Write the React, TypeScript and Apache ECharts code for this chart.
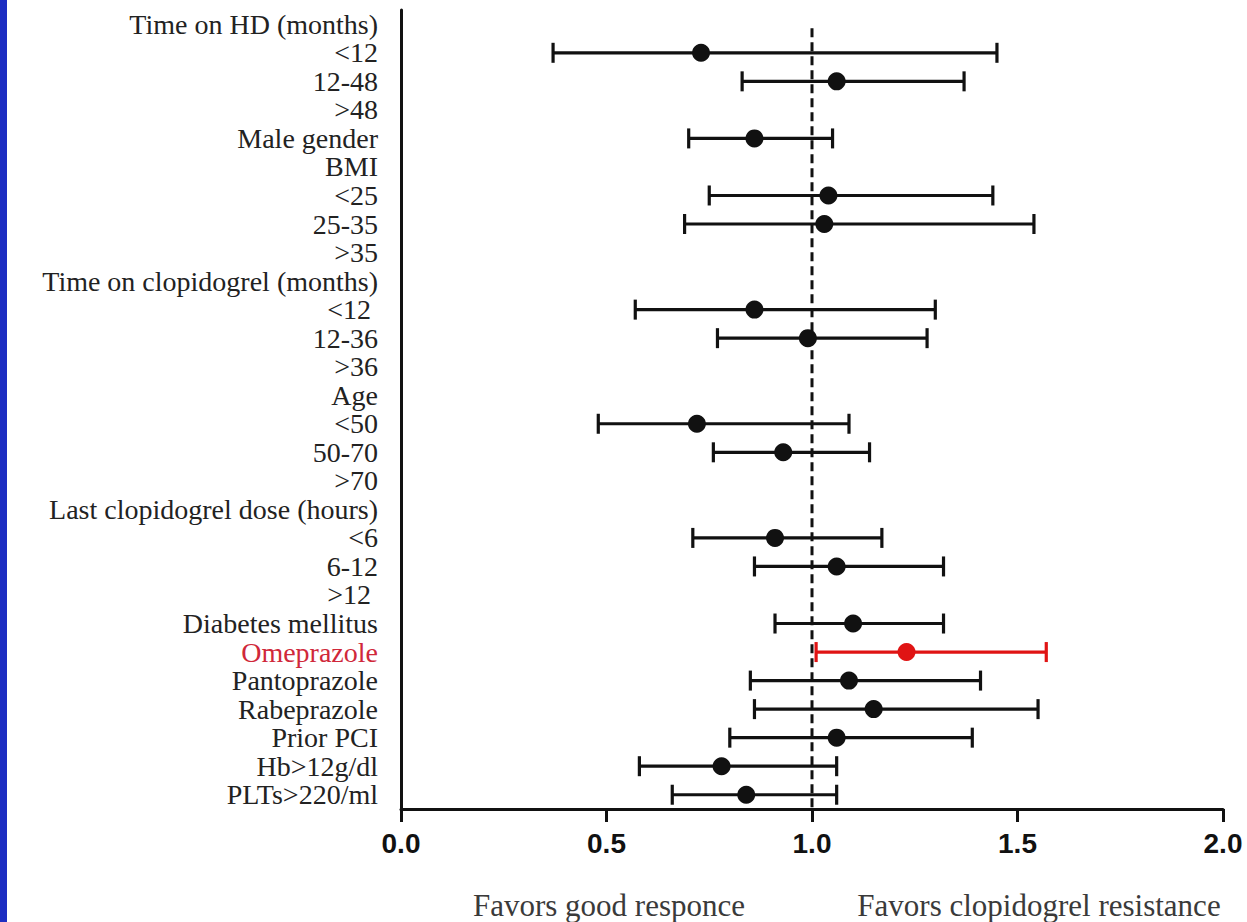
import React, { useEffect, useRef } from "react";
import * as echarts from "echarts";

// Subgroup rows, top to bottom (header rows carry no estimate)
const categories = [
  "Time on HD (months)", "<12", "12-48", ">48", "Male gender", "BMI", "<25", "25-35", ">35",
  "Time on clopidogrel (months)", "<12 ", "12-36", ">36", "Age", "<50", "50-70", ">70",
  "Last clopidogrel dose (hours)", "<6", "6-12", ">12 ", "Diabetes mellitus", "Omeprazole",
  "Pantoprazole", "Rabeprazole", "Prior PCI", "Hb>12g/dl", "PLTs>220/ml",
];

// Odds ratio estimates and 95% CI bounds (null = header / no estimate shown)
const estimate = [
  null, 0.73, 1.06, null, 0.86, null, 1.04, 1.03, null,
  null, 0.86, 0.99, null, null, 0.72, 0.93, null,
  null, 0.91, 1.06, null, 1.10, 1.23,
  1.09, 1.15, 1.06, 0.78, 0.84,
];
const lower = [
  null, 0.37, 0.83, null, 0.70, null, 0.75, 0.69, null,
  null, 0.57, 0.77, null, null, 0.48, 0.76, null,
  null, 0.71, 0.86, null, 0.91, 1.01,
  0.85, 0.86, 0.80, 0.58, 0.66,
];
const upper = [
  null, 1.45, 1.37, null, 1.05, null, 1.44, 1.54, null,
  null, 1.30, 1.28, null, null, 1.09, 1.14, null,
  null, 1.17, 1.32, null, 1.32, 1.57,
  1.41, 1.55, 1.39, 1.06, 1.06,
];

const xTicks = [0, 0.5, 1.0, 1.5, 2.0];
const referenceValue = 1.0;
const highlighted = "Omeprazole";
const leftNote = "Favors good responce";
const rightNote = "Favors clopidogrel resistance";

const INK = "#111111";
const RED = "#e01414";
const SERIF = "'Liberation Serif', 'Times New Roman', serif";

export default function App() {
  const ref = useRef<HTMLDivElement>(null);

  useEffect(() => {
    if (!ref.current) return;
    const chart = echarts.init(ref.current, null, { renderer: "svg" });

    const barData: any[] = [];
    const dotData: any[] = [];
    categories.forEach((c, i) => {
      if (estimate[i] == null) return;
      const isRed = c === highlighted;
      barData.push({ value: [i, lower[i], upper[i]], itemStyle: { color: isRed ? RED : INK } });
      dotData.push({ value: [estimate[i], c], itemStyle: { color: isRed ? RED : INK, opacity: 1 } });
    });

    chart.setOption({
      animation: false,
      backgroundColor: "#ffffff",
      grid: { left: 401, right: 24, top: 10, bottom: 113, containLabel: false },
      xAxis: {
        type: "value",
        min: xTicks[0],
        max: xTicks[xTicks.length - 1],
        interval: 0.5,
        splitLine: { show: false },
        axisLine: { show: true, lineStyle: { color: INK, width: 3 } },
        axisTick: { show: true, length: 13, lineStyle: { color: INK, width: 3 } },
        axisLabel: {
          margin: 20,
          color: "#111",
          fontFamily: "'Liberation Sans', Arial, sans-serif",
          fontWeight: "bold",
          fontSize: 28,
          formatter: (v: number) => v.toFixed(1),
        },
      },
      yAxis: {
        type: "category",
        data: categories,
        inverse: true,
        axisLine: { show: true, lineStyle: { color: INK, width: 3 } },
        axisTick: { show: false },
        splitLine: { show: false },
        axisLabel: {
          interval: 0,
          margin: 23,
          color: "#222",
          fontFamily: SERIF,
          fontSize: 28,
          lineHeight: 28,
          formatter: (v: string) => (v === highlighted ? `{red|${v}}` : v),
          rich: {
            red: { color: "#d0283a", fontFamily: SERIF, fontSize: 28, lineHeight: 28 },
          },
        },
      },
      series: [
        {
          // dashed line of no effect, from the first row down to the x axis
          type: "custom",
          name: "reference",
          data: [[referenceValue, 0]],
          encode: { x: 0, y: 1 },
          z: 2,
          silent: true,
          renderItem: (params: any, api: any) => {
            const top = api.coord([api.value(0), api.value(1)]);
            const cs = params.coordSys;
            return {
              type: "line",
              shape: { x1: top[0], y1: top[1] + 4, x2: top[0], y2: cs.y + cs.height },
              style: { stroke: INK, lineWidth: 3, lineDash: [9, 5], fill: "none" },
            };
          },
        },
        {
          type: "custom",
          name: "CI",
          encode: { x: [1, 2], y: 0 },
          data: barData,
          z: 3,
          renderItem: (params: any, api: any) => {
            const idx = api.value(0);
            const lo = api.coord([api.value(1), idx]);
            const hi = api.coord([api.value(2), idx]);
            const color = api.visual("color");
            const h = 10;
            const style = { stroke: color, lineWidth: 3.2, fill: "none" };
            return {
              type: "group",
              children: [
                { type: "line", shape: { x1: lo[0], y1: lo[1], x2: hi[0], y2: hi[1] }, style },
                { type: "line", shape: { x1: lo[0], y1: lo[1] - h, x2: lo[0], y2: lo[1] + h }, style },
                { type: "line", shape: { x1: hi[0], y1: hi[1] - h, x2: hi[0], y2: hi[1] + h }, style },
              ],
            };
          },
        },
        {
          type: "scatter",
          name: "OR",
          data: dotData,
          symbol: "circle",
          symbolSize: 18,
          itemStyle: { opacity: 1 },
          z: 4,
        },
      ],
      graphic: [
        { type: "rect", left: 0, top: 0, shape: { width: 7, height: 922 }, style: { fill: "#1d2ec2" } },
        {
          type: "text",
          x: 609,
          y: 905,
          style: {
            text: leftNote,
            fill: "#3a3a3a",
            fontFamily: SERIF,
            fontSize: 31,
            textAlign: "center",
            textVerticalAlign: "middle",
          },
        },
        {
          type: "text",
          x: 1039,
          y: 905,
          style: {
            text: rightNote,
            fill: "#3a3a3a",
            fontFamily: SERIF,
            fontSize: 31,
            textAlign: "center",
            textVerticalAlign: "middle",
          },
        },
      ],
    });

    return () => chart.dispose();
  }, []);

  return (
    <div
      ref={ref}
      style={{ position: "fixed", left: 0, top: 0, width: 1247, height: 922, background: "#fff" }}
    />
  );
}
